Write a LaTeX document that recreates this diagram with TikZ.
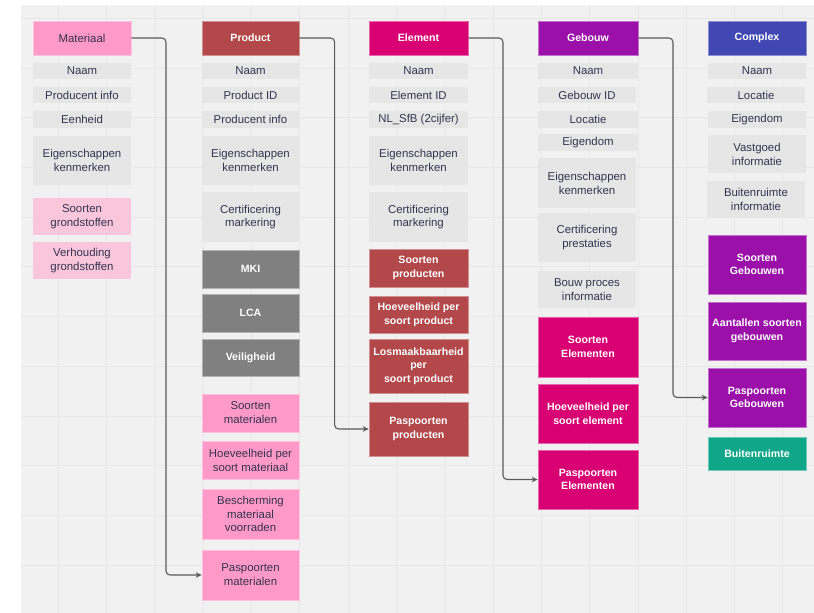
\documentclass[tikz,border=0pt]{standalone}
\usepackage{fontspec}
\setmainfont{Liberation Sans}
\usetikzlibrary{arrows.meta}
\definecolor{canvas}{HTML}{F1F1F1}
\definecolor{gridc}{HTML}{E8E8E8}
\definecolor{txt}{HTML}{33334F}
\definecolor{attrgray}{HTML}{E6E6E6}
\definecolor{matpink}{HTML}{FF99C8}
\definecolor{lightpink}{HTML}{F9C6DC}
\definecolor{prodred}{HTML}{B2484A}
\definecolor{mkigray}{HTML}{808080}
\definecolor{elemmag}{HTML}{D80073}
\definecolor{gebpurp}{HTML}{9A10A8}
\definecolor{cplxblue}{HTML}{4148B4}
\definecolor{buitgreen}{HTML}{10A689}
\definecolor{conncol}{HTML}{5A5A5A}
\newcommand\bx[7]{\node[#1, minimum width={(#5-#3)*1pt}, minimum height={(#6-#4)*1pt}] (#2) at ({(#3+#5)/2},{(#4+#6)/2}) {#7};}
\begin{document}
\begin{tikzpicture}[x=1pt,y=-1pt,
  box/.style={rectangle, inner sep=1pt, align=center, text=txt,
    font=\fontsize{11.4}{13.9}\selectfont},
  attr/.style={box, fill=attrgray},
  pinkbox/.style={box, fill=matpink, draw=matpink!60!white, line width=0.6pt},
  lpinkbox/.style={box, fill=lightpink},
  wbox/.style={box, text=white, font=\bfseries\fontsize{10.6}{13.6}\selectfont, line width=0.6pt},
  redbox/.style={wbox, fill=prodred, draw=prodred!60!white},
  greybox/.style={wbox, fill=mkigray, draw=mkigray!60!white},
  magbox/.style={wbox, fill=elemmag, draw=elemmag!60!white},
  purpbox/.style={wbox, fill=gebpurp, draw=gebpurp!60!white},
  bluebox/.style={wbox, fill=cplxblue, draw=cplxblue!60!white},
  greenbox/.style={wbox, fill=buitgreen, draw=buitgreen!60!white},
  conn/.style={draw=conncol, line width=1.1pt, rounded corners=4pt,
    -{Stealth[length=6pt,width=5.5pt]}}
]
\useasboundingbox (0,0) rectangle (814,613);
\fill[white] (0,0) rectangle (814,613);
\fill[canvas] (21,5) rectangle (814,613);
\foreach \k in {0,...,15} {\draw[gridc, line width=0.8pt] ({58.3+48.3*\k},5) -- ({58.3+48.3*\k},613);}
\foreach \k in {0,...,11} {\draw[gridc, line width=0.8pt] (21,{18.3+49.7*\k}) -- (814,{18.3+49.7*\k});}

% Materiaal
\bx{pinkbox}{m0}{33}{21}{131}{55}{Materiaal}
\bx{attr}{m1}{33}{63}{131}{79}{Naam}
\bx{attr}{m2}{33}{87}{131}{103}{Producent info}
\bx{attr}{m3}{33}{111}{131}{128}{Eenheid}
\bx{attr}{m4}{33}{136}{131}{185}{Eigenschappen\\kenmerken}
\bx{lpinkbox}{m5}{33}{198}{131}{235}{Soorten\\grondstoffen}
\bx{lpinkbox}{m6}{33}{242}{131}{279}{Verhouding\\grondstoffen}

% Product
\bx{redbox}{p0}{202}{21}{299}{55}{Product}
\bx{attr}{p1}{202}{63}{299}{79}{Naam}
\bx{attr}{p2}{202}{87}{299}{103}{Product ID}
\bx{attr}{p3}{202}{111}{299}{128}{Producent info}
\bx{attr}{p4}{202}{136}{299}{185}{Eigenschappen\\kenmerken}
\bx{attr}{p5}{202}{192}{299}{242}{Certificering\\markering}
\bx{greybox}{p6}{202}{250}{299}{288}{MKI}
\bx{greybox}{p7}{202}{294}{299}{332}{LCA}
\bx{greybox}{p8}{202}{339}{299}{376}{Veiligheid}
\bx{pinkbox}{p9}{202}{394}{299}{432}{Soorten\\materialen}
\bx{pinkbox}{p10}{202}{441}{299}{479}{Hoeveelheid per\\soort materiaal}
\bx{pinkbox}{p11}{202}{489}{299}{539}{Bescherming\\materiaal\\voorraden}
\bx{pinkbox}{p12}{202}{550}{299}{600}{Paspoorten\\materialen}

% Element
\bx{magbox}{e0}{369}{21}{468}{55}{Element}
\bx{attr}{e1}{369}{63}{468}{79}{Naam}
\bx{attr}{e2}{369}{87}{468}{103}{Element ID}
\bx{attr}{e3}{369}{111}{468}{128}{NL\_SfB (2cijfer)}
\bx{attr}{e4}{369}{136}{468}{185}{Eigenschappen\\kenmerken}
\bx{attr}{e5}{369}{192}{468}{242}{Certificering\\markering}
\bx{redbox}{e6}{369}{249}{468}{287}{Soorten\\producten}
\bx{redbox}{e7}{369}{296}{468}{333}{Hoeveelheid per\\soort product}
\bx{redbox}{e8}{369}{339}{468}{393}{Losmaakbaarheid\\per\\soort product}
\bx{redbox}{e9}{369}{402}{468}{456}{Paspoorten\\producten}

% Gebouw
\bx{purpbox}{g0}{538}{21}{638}{55}{Gebouw}
\bx{attr}{g1}{538}{63}{638}{79}{Naam}
\bx{attr}{g2}{538}{87}{636}{103}{Gebouw ID}
\bx{attr}{g3}{538}{111}{638}{128}{Locatie}
\bx{attr}{g4}{538}{134}{638}{151}{Eigendom}
\bx{attr}{g5}{538}{158}{636}{208}{Eigenschappen\\kenmerken}
\bx{attr}{g6}{538}{213}{636}{262}{Certificering\\prestaties}
\bx{attr}{g7}{538}{271}{636}{308}{Bouw proces\\informatie}
\bx{magbox}{g8}{538}{317}{638}{377}{Soorten\\Elementen}
\bx{magbox}{g9}{538}{384}{638}{443}{Hoeveelheid per\\soort element}
\bx{magbox}{g10}{538}{450}{638}{509}{Paspoorten\\Elementen}

% Complex
\bx{bluebox}{c0}{708}{21}{806}{55}{Complex}
\bx{attr}{c1}{708}{63}{806}{79}{Naam}
\bx{attr}{c2}{707}{87}{805}{103}{Locatie}
\bx{attr}{c3}{708}{111}{806}{128}{Eigendom}
\bx{attr}{c4}{708}{135}{806}{173}{Vastgoed\\informatie}
\bx{attr}{c5}{707}{181}{805}{218}{Buitenruimte\\informatie}
\bx{purpbox}{c6}{708}{235}{806}{294}{Soorten\\Gebouwen}
\bx{purpbox}{c7}{708}{302}{806}{360}{Aantallen soorten\\gebouwen}
\bx{purpbox}{c8}{708}{368}{806}{427}{Paspoorten\\Gebouwen}
\bx{greenbox}{c9}{708}{437}{806}{470}{Buitenruimte}

% connectors
\draw[conn] (m0.east) -- ++(34.7,0) |- (p12.west);
\draw[conn] (p0.east) -- ++(35.3,0) |- (e9.west);
\draw[conn] (e0.east) -- ++(34.7,0) |- (g10.west);
\draw[conn] (g0.east) -- ++(34.7,0) |- (c8.west);
\end{tikzpicture}
\end{document}
